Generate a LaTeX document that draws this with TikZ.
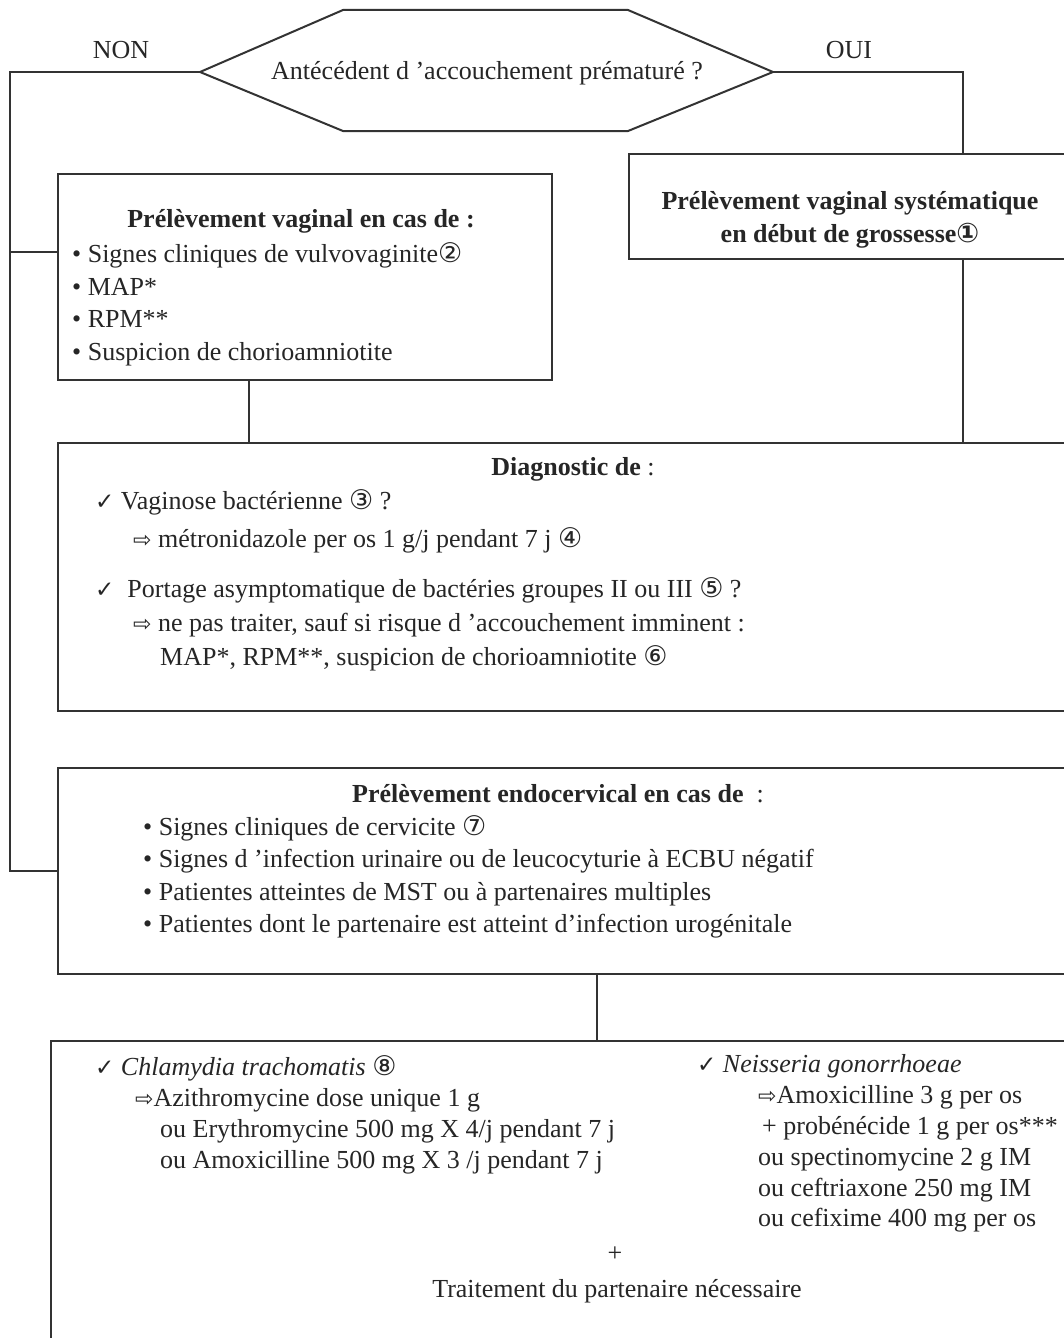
\documentclass[tikz,border=0pt]{standalone}
\usepackage{fontspec}
\setmainfont{Liberation Serif}
\newfontfamily\symf{DejaVu Sans}
\newcommand{\ck}{{\symf\fontsize{23}{24}\selectfont ✓}}
\newcommand{\arw}{{\symf\fontsize{22}{24}\selectfont ⇨}}
\newcommand{\cn}[1]{{\symf\fontsize{27}{24}\selectfont #1}}
\definecolor{ink}{HTML}{262626}
\definecolor{line}{HTML}{333333}
\begin{document}
\begin{tikzpicture}[x=1pt,y=-1pt,
  every node/.style={font=\fontsize{26}{32}\selectfont, text=ink, inner sep=0pt},
  box/.style={draw=line, line width=2pt, rectangle, anchor=north west},
  conn/.style={draw=line, line width=2pt},
  tl/.style={anchor=base west},
  tc/.style={anchor=base}]
\fill[white] (0,0) rectangle (1064,1338);
\clip (0,0) rectangle (1064,1338);

% hexagon
\coordinate (hl) at (200,72);
\coordinate (h1) at (343,10);
\coordinate (h2) at (628,10);
\coordinate (hr) at (773,72);
\coordinate (h4) at (628,131);
\coordinate (h5) at (343,131);
\draw[conn] (hl) -- (h1) -- (h2) -- (hr) -- (h4) -- (h5) -- cycle;
\node[tc] (q) at (487,79) {Antécédent d 'accouchement prématuré ?};
\node[tc] (non) at (121,59) {NON};
\node[tc] (oui) at (849,59) {OUI};

% boxes
\node[box, minimum width=494, minimum height=206] (lb) at (57,173) {};
\node[box, minimum width=444, minimum height=105] (rb) at (628,153) {};
\node[box, minimum width=1040, minimum height=268] (diag) at (57,442) {};
\node[box, minimum width=1040, minimum height=206] (endo) at (57,767) {};
\node[box, minimum width=1100, minimum height=400] (bot) at (50,1040) {};

% connectors
\coordinate (cL) at (10,72);
\coordinate (jL) at (10,252);
\coordinate (cR) at (963,72);
\coordinate (xL) at (249,0);
\coordinate (xR) at (963,0);
\coordinate (xM) at (597,0);
\draw[conn] (hl) -- (cL) |- (endo.west);
\draw[conn] (jL) -- (jL -| lb.west);
\draw[conn] (hr) -- (cR) -- (cR |- rb.north);
\draw[conn] (xR |- rb.south) -- (xR |- diag.north);
\draw[conn] (xL |- lb.south) -- (xL |- diag.north);
\draw[conn] (xM |- endo.south) -- (xM |- bot.north);

% right box text
\node[tc] (rb1) at (850,209) {\bfseries Prélèvement vaginal systématique};
\node[tc] (rb2) at (850,242) {\bfseries en début de grossesse\cn{①}};

% left box text
\node[tc] (lbt) at (301,227) {\bfseries Prélèvement vaginal en cas de :};
\node[tl] (lb1) at (72,262) {• Signes cliniques de vulvovaginite\cn{②}};
\node[tl] (lb2) at (72,295) {• MAP*};
\node[tl] (lb3) at (72,327) {• RPM**};
\node[tl] (lb4) at (72,360) {• Suspicion de chorioamniotite};

% diagnostic text
\node[tc] (dt) at (573,475) {\textbf{Diagnostic de} :};
\node[tl] (d1) at (95,509) {\ck\ Vaginose bactérienne \cn{③} ?};
\node[tl] (d2) at (133,547) {\arw\ métronidazole per os 1 g/j pendant 7 j \cn{④}};
\node[tl] (d3) at (95,597) {\ck\ \ Portage asymptomatique de bactéries groupes II ou III \cn{⑤} ?};
\node[tl] (d4) at (133,631) {\arw\ ne pas traiter, sauf si risque d 'accouchement imminent :};
\node[tl] (d5) at (160,665) {MAP*, RPM**, suspicion de chorioamniotite \cn{⑥}};

% endocervical text
\node[tc] (et) at (558,802) {\textbf{Prélèvement endocervical en cas de}\ \ :};
\node[tl] (e1) at (143,835) {• Signes cliniques de cervicite \cn{⑦}};
\node[tl] (e2) at (143,867) {• Signes d 'infection urinaire ou de leucocyturie à ECBU négatif};
\node[tl] (e3) at (143,900) {• Patientes atteintes de MST ou à partenaires multiples};
\node[tl] (e4) at (143,932) {• Patientes dont le partenaire est atteint d’infection urogénitale};

% bottom text
\node[tl] (c1) at (95,1075) {\ck\ \textit{Chlamydia trachomatis} \cn{⑧}};
\node[tl] (c2) at (135,1106) {\arw Azithromycine dose unique 1 g};
\node[tl] (c3) at (160,1137) {ou Erythromycine 500 mg X 4/j pendant 7 j};
\node[tl] (c4) at (160,1168) {ou Amoxicilline 500 mg X 3 /j pendant 7 j};
\node[tl] (n1) at (697,1072) {\ck\ \textit{Neisseria gonorrhoeae}};
\node[tl] (n2) at (758,1103) {\arw Amoxicilline 3 g per os};
\node[tl] (n3) at (762,1134) {+ probénécide 1 g per os***};
\node[tl] (n4) at (758,1165) {ou spectinomycine 2 g IM};
\node[tl] (n5) at (758,1196) {ou ceftriaxone 250 mg IM};
\node[tl] (n6) at (758,1226) {ou cefixime 400 mg per os};
\node[tc] (pl) at (615,1261) {+};
\node[tc] (tp) at (617,1297) {Traitement du partenaire nécessaire};
\end{tikzpicture}
\end{document}
